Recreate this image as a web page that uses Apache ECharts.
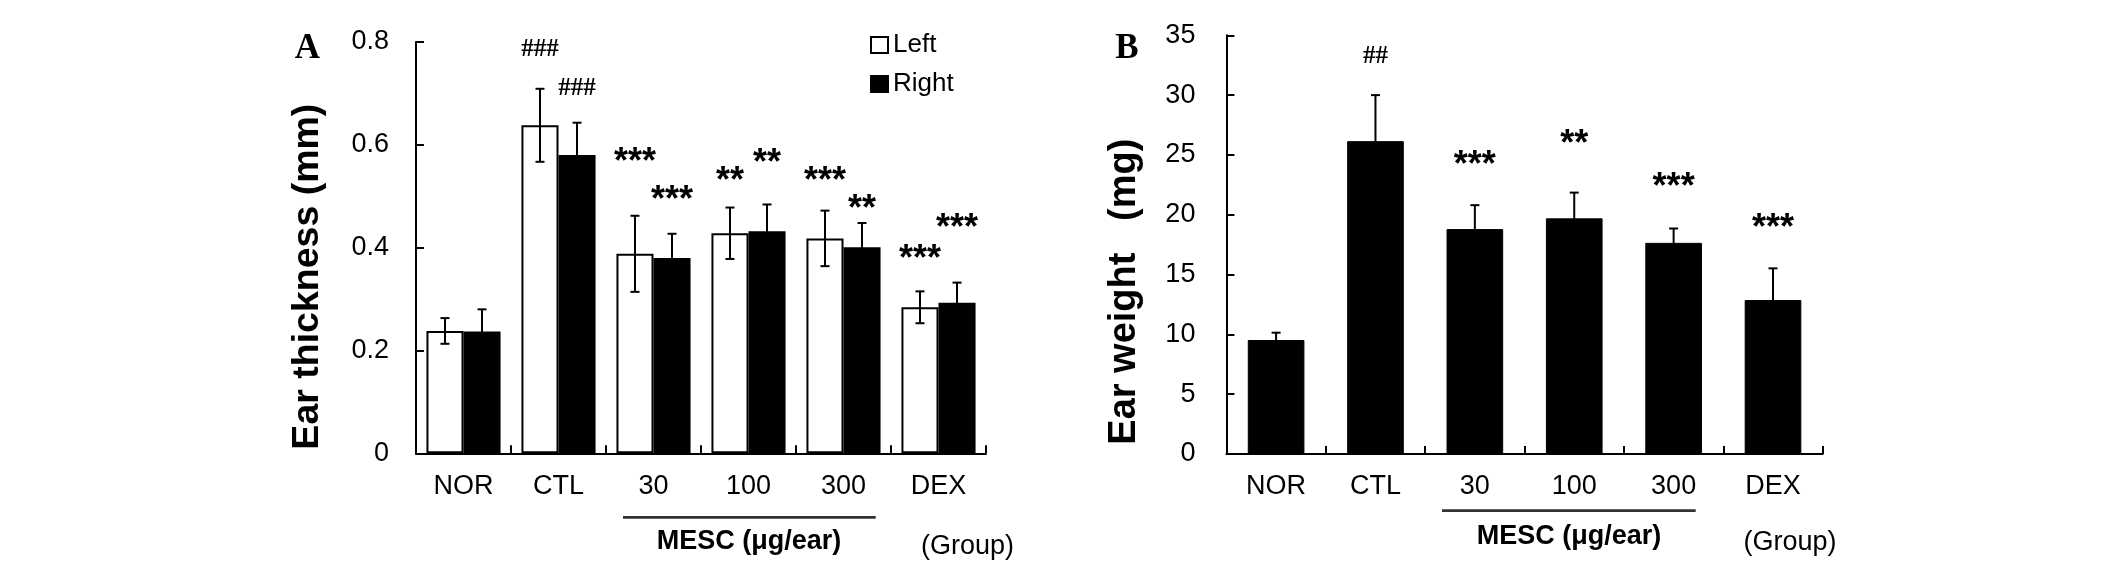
<!DOCTYPE html>
<html>
<head>
<meta charset="utf-8">
<script src="https://cdn.jsdelivr.net/npm/echarts@6/dist/echarts.min.js"></script>
<style>html,body{margin:0;padding:0;background:#fff}#c{width:2126px;height:565px}</style>
</head>
<body>
<div id="c"></div>
<script>
// ---------- data ----------
const categories = ['NOR', 'CTL', '30', '100', '300', 'DEX'];
const yTicksA = [0, 0.2, 0.4, 0.6, 0.8];
const yTicksB = [0, 5, 10, 15, 20, 25, 30, 35];
const thickLeft = [0.238, 0.638, 0.388, 0.428, 0.418, 0.284];
const thickLeftErr = [0.025, 0.071, 0.074, 0.050, 0.054, 0.031];
const thickRight = [0.237, 0.580, 0.380, 0.432, 0.401, 0.293];
const thickRightErr = [0.043, 0.063, 0.047, 0.052, 0.047, 0.039];
const thickLeftSig = ['', '###', '***', '**', '***', '***'];
const thickLeftSigY = [null, 0.786, 0.580, 0.5435, 0.543, 0.391];
const thickRightSig = ['', '###', '***', '**', '**', '***'];
const thickRightSigY = [null, 0.710, 0.507, 0.579, 0.4895, 0.452];
const weight = [9.53, 26.15, 18.8, 19.7, 17.65, 12.87];
const weightErr = [0.61, 3.85, 2.0, 2.15, 1.2, 2.65];
const weightSig = ['', '##', '***', '**', '***', '***'];
const weightSigY = [null, 33.2, 24.8, 26.5, 22.9, 19.5];

// ---------- styles ----------
const SANS = '"Liberation Sans", Arial, sans-serif';
const SERIF = '"Liberation Serif", "Times New Roman", serif';
const GAP_A = 0.22, GAP_B = 0.43;

function errRender(gap, side) {
  return function (params, api) {
    const i = api.value(0), v = api.value(1), e = api.value(2);
    const band = api.size([1, 0])[0];
    const barW = side === 0 ? band * (1 - gap) : band * (1 - gap) / 2;
    const dx = side * barW / 2;
    const c = api.coord([i, v]);
    const t = api.coord([i, v + e]);
    const b = api.coord([i, v - e]);
    const x = c[0] + dx, cap = 4.5;
    const st = { stroke: '#000', lineWidth: 2 };
    return { type: 'group', children: [
      { type: 'line', shape: { x1: x, y1: t[1], x2: x, y2: b[1] }, style: st },
      { type: 'line', shape: { x1: x - cap, y1: t[1], x2: x + cap, y2: t[1] }, style: st },
      { type: 'line', shape: { x1: x - cap, y1: b[1], x2: x + cap, y2: b[1] }, style: st }
    ]};
  };
}
function sigRender(gap, side, texts) {
  return function (params, api) {
    const i = api.value(0), y = api.value(1);
    if (isNaN(y)) return null;
    const txt = texts[params.dataIndex];
    if (!txt) return null;
    const band = api.size([1, 0])[0];
    const barW = side === 0 ? band * (1 - gap) : band * (1 - gap) / 2;
    const dx = side * barW / 2;
    const p = api.coord([i, y]);
    const isHash = txt.charAt(0) === '#';
    const fs = isHash ? 25 : 36;
    return { type: 'text', x: p[0] + dx, y: p[1] + (isHash ? 0 : fs * 0.23), style: {
      text: txt, fontSize: fs, fontFamily: isHash ? SERIF : SANS,
      fontWeight: 'bold', fill: '#000', align: 'center', verticalAlign: 'middle'
    }};
  };
}

const axisLineStyle = { show: true, lineStyle: { color: '#000', width: 2 } };
const tickStyle = { show: true, inside: true, length: 8, lineStyle: { color: '#000', width: 2 } };

const option = {
  animation: false,
  backgroundColor: '#fff',
  grid: [
    { left: 416, top: 42, width: 570, height: 411.3, outerBoundsMode: 'none', containLabel: false },
    { left: 1226.4, top: 35.3, width: 596.3, height: 418.7, outerBoundsMode: 'none', containLabel: false }
  ],
  legend: {
    data: ['Left', 'Right'], orient: 'vertical', left: 870, top: 32, padding: 0,
    itemWidth: 17, itemHeight: 16, itemGap: 13, selectedMode: false, icon: 'rect',
    textStyle: { fontSize: 26, fontFamily: SANS, color: '#000' }
  },
  xAxis: [0, 1].map(g => ({
    type: 'category', gridIndex: g, data: categories, boundaryGap: true,
    axisLine: axisLineStyle, axisTick: tickStyle,
    axisLabel: { color: '#000', fontSize: 27, fontFamily: SANS, margin: g === 0 ? 20 : 19 },
    splitLine: { show: false }
  })),
  yAxis: [
    {
      type: 'value', gridIndex: 0, min: yTicksA[0], max: yTicksA[yTicksA.length - 1], interval: 0.2,
      axisLine: axisLineStyle, axisTick: tickStyle, splitLine: { show: false },
      axisLabel: { color: '#000', fontSize: 27, fontFamily: SANS, margin: 27 },
      name: 'Ear thickness (mm)', nameLocation: 'middle', nameGap: 89, nameRotate: 90,
      nameTextStyle: { fontSize: 37.5, fontWeight: 'bold', fontFamily: SANS, color: '#000', padding: [0, 58, 0, 0] }
    },
    {
      type: 'value', gridIndex: 1, min: yTicksB[0], max: yTicksB[yTicksB.length - 1], interval: 5,
      axisLine: axisLineStyle, axisTick: tickStyle, splitLine: { show: false },
      axisLabel: { color: '#000', fontSize: 27, fontFamily: SANS, margin: 31 },
      name: 'Ear weight   (mg)', nameLocation: 'middle', nameGap: 83, nameRotate: 90,
      nameTextStyle: { fontSize: 38, fontWeight: 'bold', fontFamily: SANS, color: '#000', padding: [0, 94, 0, 0] }
    }
  ],
  series: [
    { name: 'Left', type: 'bar', xAxisIndex: 0, yAxisIndex: 0, data: thickLeft,
      barGap: '0%', barCategoryGap: (GAP_A * 100) + '%',
      itemStyle: { color: '#fff', borderColor: '#000', borderWidth: 2 } },
    { name: 'Right', type: 'bar', xAxisIndex: 0, yAxisIndex: 0, data: thickRight,
      barGap: '0%', barCategoryGap: (GAP_A * 100) + '%',
      itemStyle: { color: '#000', borderColor: '#000', borderWidth: 2 } },
    { name: 'Weight', type: 'bar', xAxisIndex: 1, yAxisIndex: 1, data: weight,
      barCategoryGap: (GAP_B * 100) + '%',
      itemStyle: { color: '#000', borderColor: '#000', borderWidth: 1 } },
    { type: 'custom', xAxisIndex: 0, yAxisIndex: 0, z: 5, renderItem: errRender(GAP_A, -1),
      data: categories.map((c, i) => [i, thickLeft[i], thickLeftErr[i]]) },
    { type: 'custom', xAxisIndex: 0, yAxisIndex: 0, z: 5, renderItem: errRender(GAP_A, 1),
      data: categories.map((c, i) => [i, thickRight[i], thickRightErr[i]]) },
    { type: 'custom', xAxisIndex: 1, yAxisIndex: 1, z: 5, renderItem: errRender(GAP_B, 0),
      data: categories.map((c, i) => [i, weight[i], weightErr[i]]) },
    { type: 'custom', xAxisIndex: 0, yAxisIndex: 0, z: 6, renderItem: sigRender(GAP_A, -1, thickLeftSig),
      data: categories.map((c, i) => [i, thickLeftSigY[i] == null ? '-' : thickLeftSigY[i]]) },
    { type: 'custom', xAxisIndex: 0, yAxisIndex: 0, z: 6, renderItem: sigRender(GAP_A, 1, thickRightSig),
      data: categories.map((c, i) => [i, thickRightSigY[i] == null ? '-' : thickRightSigY[i]]) },
    { type: 'custom', xAxisIndex: 1, yAxisIndex: 1, z: 6, renderItem: sigRender(GAP_B, 0, weightSig),
      data: categories.map((c, i) => [i, weightSigY[i] == null ? '-' : weightSigY[i]]) }
  ],
  graphic: [
    { type: 'text', x: 307.5, y: 48.5, style: { text: 'A', fontSize: 35, fontWeight: 'bold', fontFamily: SERIF, fill: '#000', align: 'center', verticalAlign: 'middle' } },
    { type: 'text', x: 1126.8, y: 48.5, style: { text: 'B', fontSize: 35, fontWeight: 'bold', fontFamily: SERIF, fill: '#000', align: 'center', verticalAlign: 'middle' } },
    { type: 'line', shape: { x1: 623, y1: 517.3, x2: 875.7, y2: 517.3 }, style: { stroke: '#333', lineWidth: 2.7 } },
    { type: 'line', shape: { x1: 1442, y1: 510.7, x2: 1695.7, y2: 510.7 }, style: { stroke: '#333', lineWidth: 2.7 } },
    { type: 'text', x: 749, y: 541.7, style: { text: 'MESC (μg/ear)', fontSize: 27, fontWeight: 'bold', fontFamily: SANS, fill: '#000', align: 'center', verticalAlign: 'middle' } },
    { type: 'text', x: 1569, y: 537, style: { text: 'MESC (μg/ear)', fontSize: 27, fontWeight: 'bold', fontFamily: SANS, fill: '#000', align: 'center', verticalAlign: 'middle' } },
    { type: 'text', x: 967.5, y: 547, style: { text: '(Group)', fontSize: 27, fontFamily: SANS, fill: '#000', align: 'center', verticalAlign: 'middle' } },
    { type: 'text', x: 1790, y: 543, style: { text: '(Group)', fontSize: 27, fontFamily: SANS, fill: '#000', align: 'center', verticalAlign: 'middle' } }
  ]
};
const chart = echarts.init(document.getElementById('c'), null, { renderer: 'canvas' });
chart.setOption(option);
</script>
</body>
</html>
